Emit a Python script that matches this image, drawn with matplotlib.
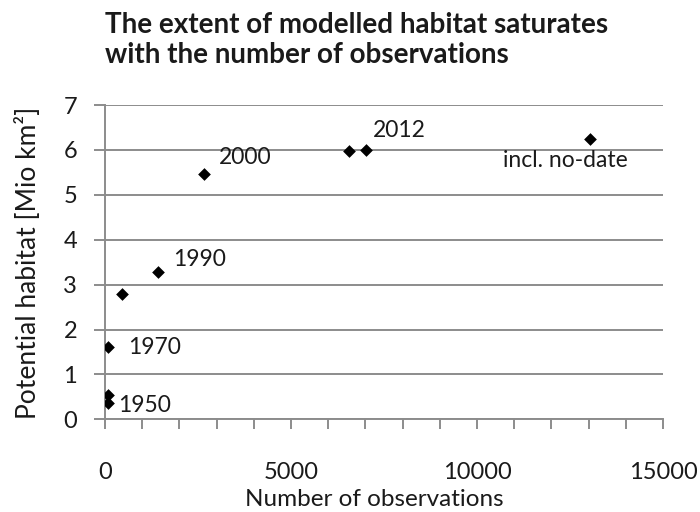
import matplotlib
matplotlib.use("Agg")
import matplotlib.pyplot as plt
from matplotlib.ticker import MultipleLocator

plt.rcParams['font.family'] = ['Lato', 'DejaVu Sans']

# Data
observations = [70, 70, 70, 465, 1417, 2670, 6567, 7008, 13038]
habitat = [0.36, 0.54, 1.62, 2.79, 3.28, 5.46, 5.97, 6.0, 6.24]

label_texts = ["1950", "1970", "1990", "2000", "2012", "incl. no-date"]
label_x = [350, 620, 1830, 3065, 7200, 10700]
label_y = [0.30, 1.59, 3.55, 5.84, 6.43, 5.77]

x_ticks = [0, 5000, 10000, 15000]
y_ticks = [0, 1, 2, 3, 4, 5, 6, 7]

title_lines = ["The extent of modelled habitat saturates",
               "with the number of observations"]
xlabel = "Number of observations"
ylabel = "Potential habitat [Mio km²]"

text_color = "#1a1a1a"
grid_color = "#8c8c8c"

fig = plt.figure(figsize=(7.0, 5.12), dpi=100)
ax = fig.add_axes([105/700, 1 - 419.3/512, (663 - 105)/700, (419.3 - 105)/512])

ax.scatter(observations, habitat, marker='D', s=42, color='black', zorder=3,
           linewidths=0)

for t, x, y in zip(label_texts, label_x, label_y):
    ax.text(x, y, t, ha='left', va='center', fontsize=16.5, color=text_color)

ax.set_xlim(0, 15000)
ax.set_ylim(0, 7)
ax.set_xticks(x_ticks)
ax.set_yticks(y_ticks)
ax.xaxis.set_minor_locator(MultipleLocator(1000))

ax.grid(axis='y', color=grid_color, linewidth=1.4)
ax.set_axisbelow(True)
for s in ['top', 'right']:
    ax.spines[s].set_visible(False)
for s in ['left', 'bottom']:
    ax.spines[s].set_color(grid_color)
    ax.spines[s].set_linewidth(1.4)

ax.tick_params(axis='x', which='both', direction='out', length=7, width=1.4,
               color=grid_color, labelsize=17, labelcolor=text_color, pad=24)
ax.tick_params(axis='y', which='both', direction='out', length=8, width=1.4,
               color=grid_color, labelsize=17, labelcolor=text_color, pad=12)

ax.set_xlabel(xlabel, fontsize=17.5, color=text_color)
ax.xaxis.set_label_coords((374 - 105) / (663 - 105), -(500 - 419.3) / (419.3 - 105))
ax.xaxis.label.set_va('center')

ax.set_ylabel(ylabel, fontsize=19, color=text_color)
ax.yaxis.set_label_coords(-(105 - 28) / (663 - 105), (419.3 - 263) / (419.3 - 105))
ax.yaxis.label.set_va('center')

for i, line in enumerate(title_lines):
    fig.text(105/700, 1 - (33 + 30 * i)/512, line, ha='left', va='baseline',
             fontsize=20, fontweight='bold', color=text_color)

fig.savefig("out.png", dpi=100, facecolor='white')
